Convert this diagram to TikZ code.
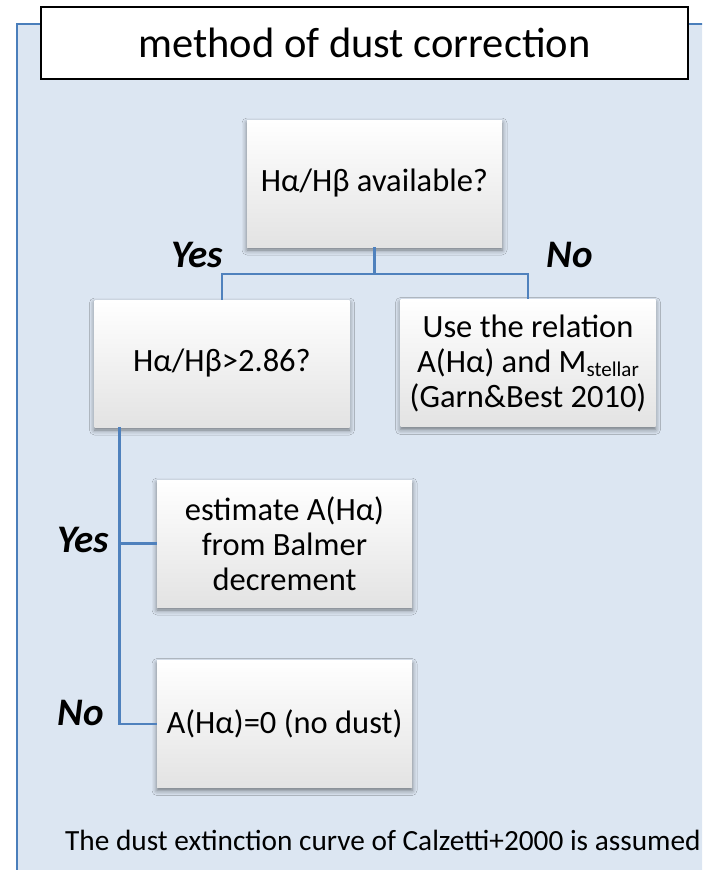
\documentclass[tikz,border=0pt]{standalone}
\usepackage{fontspec}
\setmainfont{Carlito}
\usetikzlibrary{shadows.blur}
\definecolor{panelfill}{HTML}{DCE6F2}
\definecolor{panelline}{HTML}{4A7EBB}
\definecolor{linkblue}{HTML}{4F81BD}
\begin{document}
\begin{tikzpicture}[x=1pt,y=-1pt,
    question/.style={minimum width=255pt, minimum height=127pt, inner sep=0pt,
      align=center, font=\fontsize{32.5}{35}\selectfont,
      top color=white, middle color=white!96!black, bottom color=black!11,
      blur shadow={shadow xshift=0pt, shadow yshift=-3pt,
        shadow blur radius=5pt, shadow opacity=50}},
    answer/.style={font=\fontsize{39}{40}\selectfont\bfseries\itshape, inner sep=0pt},
    link/.style={linkblue, line width=2.5pt}]
      \useasboundingbox (0,0) rectangle (702,870);
      \fill[white] (0,0) rectangle (702,870);
      \begin{scope}
        \clip (0,0) rectangle (702,870);
        \draw[panelline, line width=2pt, fill=panelfill] (17,24) rectangle (760,920);
      \end{scope}
      \coordinate (q0) at (374.5,183.5);
      \coordinate (q1) at (222,363.5);
      \coordinate (r0) at (528,363);
      \coordinate (e0) at (284.5,543.5);
      \coordinate (z0) at (284.5,724);

      \node[draw=black, line width=2pt, fill=white, minimum width=647pt,
        minimum height=72pt, font=\fontsize{42.5}{50}\selectfont] (title)
        at (364.5,43) {method of dust correction};

      \node[question] (avail) at (q0) {Hα/Hβ available?};
      \node[question] (ratio) at (q1) {Hα/Hβ>2.86?};
      \node[question] (relation) at (r0) {Use the relation\\
        A(Hα) and M\raisebox{-4pt}{\fontsize{21}{21}\selectfont stellar}\\(Garn\&Best 2010)};
      \node[question] (balmer) at (e0) {estimate A(Hα)\\from Balmer\\decrement};
      \node[question] (nodust) at (z0) {A(Hα)=0 (no dust)};

      \draw[link] (avail.south) -- ++(0,27) -| (ratio.north);
      \draw[link] (avail.south) ++(0,27) -| (relation.north);
      \draw[link] ([xshift=25pt]ratio.south west) |- (balmer.west);
      \draw[link] ([xshift=25pt]ratio.south west) |- (nodust.west);

      \node[answer] (yes1) at (197,255) {Yes};
      \node[answer] (no1) at (570,255) {No};
      \node[answer] (yes2) at (83,540) {Yes};
      \node[answer] (no2) at (81,713) {No};

      \node[anchor=base west, inner sep=0pt, font=\fontsize{29.3}{30}\selectfont]
        (note) at (65,850) {The dust extinction curve of Calzetti+2000 is assumed};
    \end{tikzpicture}
\end{document}
